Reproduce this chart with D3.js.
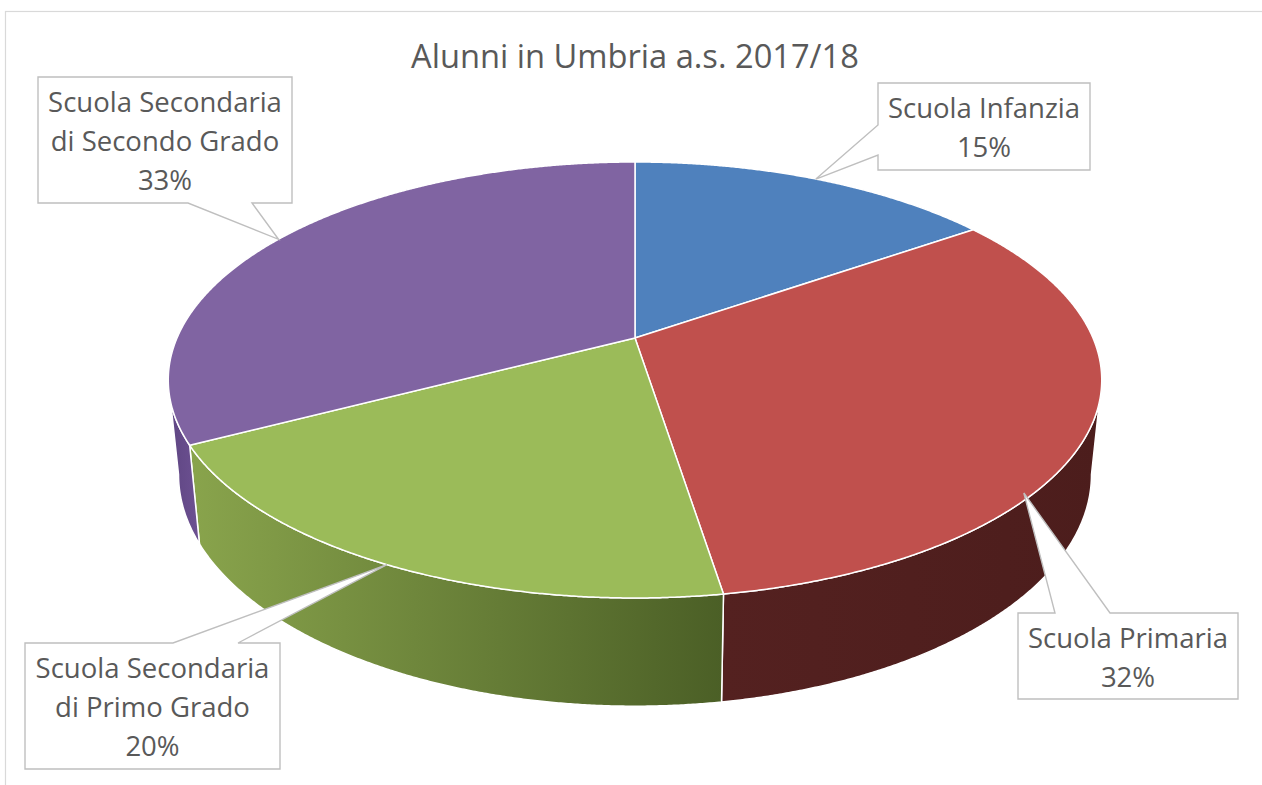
<!DOCTYPE html>
<html>
<head>
<meta charset="utf-8">
<script src="https://cdn.jsdelivr.net/npm/d3@7"></script>
<style>
  html, body { margin: 0; padding: 0; background: #ffffff; }
  svg { display: block; }
</style>
</head>
<body>
<svg id="chart" width="1262" height="785"></svg>
<script>
// ---------------- data ----------------
const title = "Alunni in Umbria a.s. 2017/18";
const categories = [
  "Scuola Infanzia",
  "Scuola Primaria",
  "Scuola Secondaria di Primo Grado",
  "Scuola Secondaria di Secondo Grado"
];
const labelLines = [
  ["Scuola Infanzia"],
  ["Scuola Primaria"],
  ["Scuola Secondaria", "di Primo Grado"],
  ["Scuola Secondaria", "di Secondo Grado"]
];
const values = [15.3, 32.2, 19.8, 32.7];
const topColors = ["#4F81BD", "#C0504D", "#9BBB59", "#8064A2"];
const wallColors = [
  ["#3E6594", "#3A5E8A"],
  ["#542120", "#4C1D1C"],
  ["#89A44C", "#4B5F26"],
  ["#5E4582", "#6D5192"]
];
// ---------------- layout ----------------
const W = 1262, H = 785;
const cx = 635, cy = 338;        // projected pie centre
const A = 458, B = 209.9;        // horizontal / depth radii
const persp = 0.1926;            // perspective factor
const shrink = 0.978, drop = 92; // bottom rim

// label boxes: x, y, w, h, side of pointer, p1, p2, leader fraction within slice
const boxes = [
  {x: 878, y: 83,  w: 212, h: 87,  side: "left",   p1: 42,  p2: 72,  frac: 0.5,  r: 1.0},
  {x: 1018, y: 613, w: 220, h: 86, side: "top",    p1: 37,  p2: 92,  frac: 0.655, r: 0.985},
  {x: 25,  y: 643, w: 255, h: 126, side: "top",    p1: 148, p2: 213, frac: 0.5,  r: 1.0},
  {x: 38,  y: 77,  w: 254, h: 126, side: "bottom", p1: 150, p2: 214, frac: 0.5,  r: 1.0}
];

const svg = d3.select("#chart");
const defs = svg.append("defs");

// chart border
svg.append("rect")
  .attr("x", 5.5).attr("y", 11.5)
  .attr("width", W + 40).attr("height", H + 40)
  .attr("fill", "#ffffff")
  .attr("stroke", "#D9D9D9").attr("stroke-width", 1.2);

// scales for the projected disk
const xs = d3.scaleLinear().domain([-1, 1]).range([cx - A, cx + A]);
const ys = d3.scaleLinear().domain([-1, 1]).range([cy - B, cy + B]);

function proj(phi, r, bottom) {
  const u = r * Math.sin(phi), v = -r * Math.cos(phi);
  const w = 1 - persp * v;
  const k = bottom ? shrink : 1;
  const x = xs(k * u / w);
  const y = ys(k * v / w) + (bottom ? drop / w : 0);
  return [x, y];
}

const pie = d3.pie().sort(null).value(d => d).startAngle(0).endAngle(2 * Math.PI);
const arcs = pie(values);
const total = d3.sum(values);
const line = d3.line();
const step = Math.PI / 720;

function samples(a0, a1) {
  const n = Math.max(2, Math.ceil((a1 - a0) / step));
  return d3.range(n + 1).map(i => a0 + (a1 - a0) * i / n);
}

// ---------- walls (front visible part) ----------
const visLo = Math.PI - Math.acos(persp);
const visHi = Math.PI + Math.acos(persp);
const wallG = svg.append("g");
arcs.forEach((a, i) => {
  const lo = Math.max(a.startAngle, visLo);
  const hi = Math.min(a.endAngle, visHi);
  if (hi <= lo) return;
  const ang = samples(lo, hi);
  const topPts = ang.map(t => proj(t, 1, false));
  const botPts = ang.slice().reverse().map(t => proj(t, 1, true));
  const pts = topPts.concat(botPts);
  const xExt = d3.extent(pts, p => p[0]);
  const gid = "wall" + i;
  const grad = defs.append("linearGradient").attr("id", gid)
    .attr("gradientUnits", "userSpaceOnUse")
    .attr("x1", xExt[0]).attr("x2", xExt[1]).attr("y1", 0).attr("y2", 0);
  grad.append("stop").attr("offset", 0).attr("stop-color", wallColors[i][0]);
  grad.append("stop").attr("offset", 1).attr("stop-color", wallColors[i][1]);
  wallG.append("path")
    .attr("d", line(pts) + "Z")
    .attr("fill", `url(#${gid})`)
    .attr("stroke", "#ffffff").attr("stroke-width", 1.5)
    .attr("stroke-linejoin", "round");
});

// ---------- top faces ----------
const topG = svg.append("g");
arcs.forEach((a, i) => {
  const ang = samples(a.startAngle, a.endAngle);
  const pts = [[cx, cy]].concat(ang.map(t => proj(t, 1, false)));
  topG.append("path")
    .attr("d", line(pts) + "Z")
    .attr("fill", topColors[i])
    .attr("stroke", "#ffffff").attr("stroke-width", 1.5)
    .attr("stroke-linejoin", "round");
});

// ---------- title ----------
const fontFam = "'Open Sans', 'Noto Sans', Lato, sans-serif";
const titleEl = svg.append("text")
  .attr("x", cx).attr("y", 68)
  .attr("text-anchor", "middle")
  .attr("font-family", fontFam)
  .attr("font-size", 100)
  .attr("fill", "#595959")
  .text(title);
const tw = titleEl.node().getComputedTextLength();
titleEl.attr("font-size", 100 * 448 / tw);

// measure label font size
const probe = svg.append("text").attr("font-family", fontFam).attr("font-size", 100).text("Scuola Secondaria");
const lw = probe.node().getComputedTextLength();
probe.remove();
const labelSize = 100 * 234 / lw;

// ---------- callouts ----------
const calG = svg.append("g");
arcs.forEach((a, i) => {
  const b = boxes[i];
  const phi = a.startAngle + (a.endAngle - a.startAngle) * b.frac;
  const tip = proj(phi, b.r, false);
  const x = b.x, y = b.y, w = b.w, h = b.h;
  let pts;
  if (b.side === "top") {
    pts = [[x, y], [x + b.p1, y], tip, [x + b.p2, y], [x + w, y], [x + w, y + h], [x, y + h]];
  } else if (b.side === "bottom") {
    pts = [[x, y], [x + w, y], [x + w, y + h], [x + b.p2, y + h], tip, [x + b.p1, y + h], [x, y + h]];
  } else {
    pts = [[x, y], [x + w, y], [x + w, y + h], [x, y + h], [x, y + b.p2], tip, [x, y + b.p1]];
  }
  calG.append("path")
    .attr("d", line(pts) + "Z")
    .attr("fill", "#ffffff")
    .attr("stroke", "#BFBFBF").attr("stroke-width", 1.4)
    .attr("stroke-linejoin", "miter");
  const pct = Math.round(a.value / total * 100) + "%";
  const lines = labelLines[i].concat([pct]);
  const t = calG.append("text")
    .attr("font-family", fontFam)
    .attr("font-size", labelSize)
    .attr("fill", "#595959")
    .attr("text-anchor", "middle");
  lines.forEach((s, j) => {
    t.append("tspan")
      .attr("x", x + w / 2)
      .attr("y", y + 35 + j * 39)
      .text(s);
  });
});
</script>
</body>
</html>
